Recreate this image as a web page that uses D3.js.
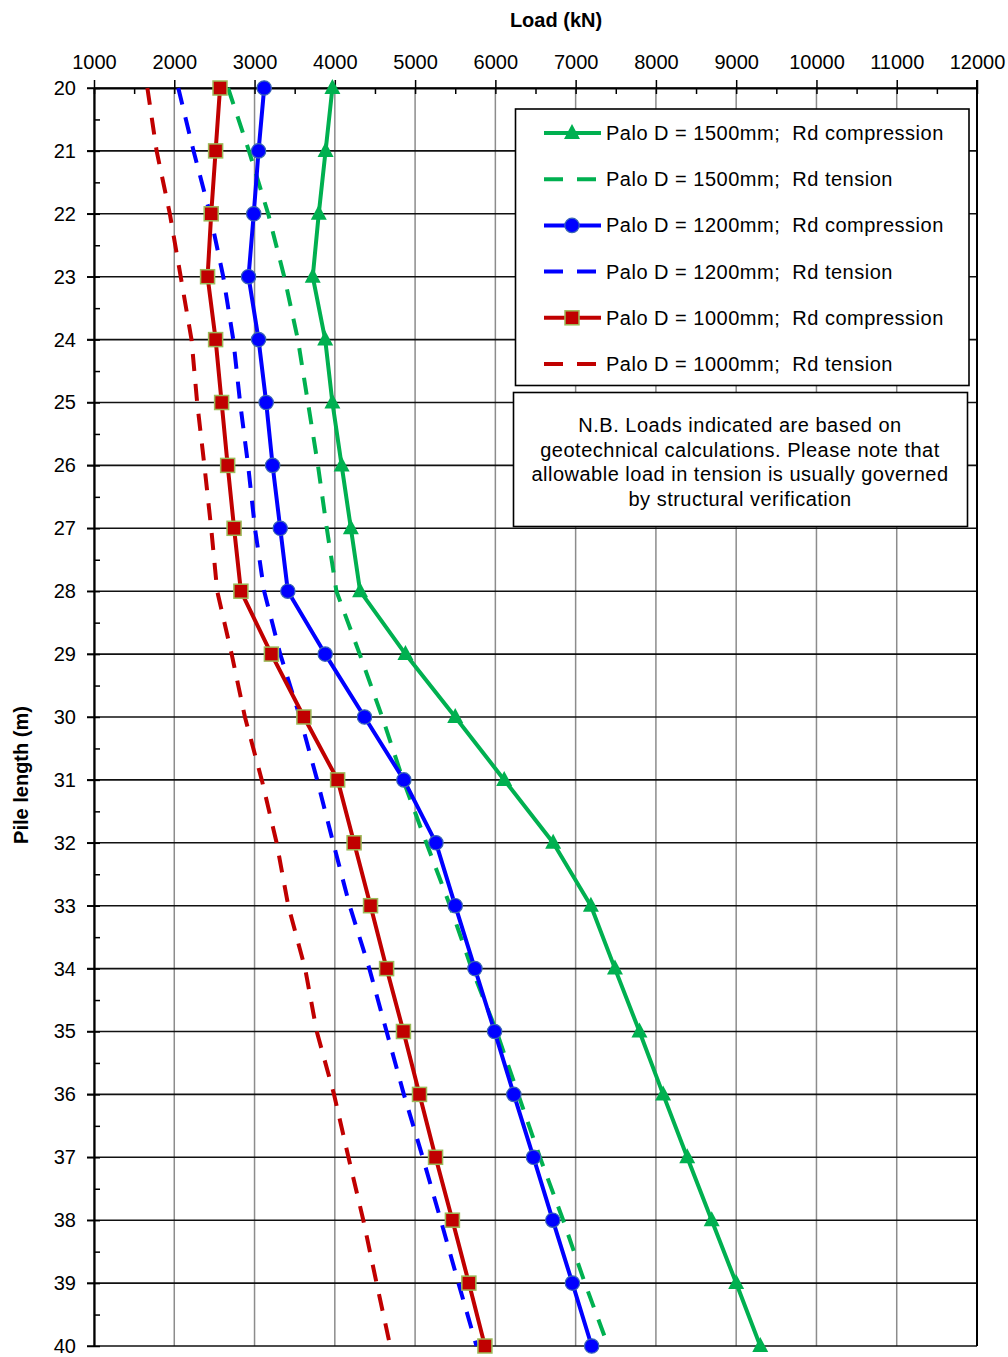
<!DOCTYPE html>
<html>
<head>
<meta charset="utf-8">
<script src="https://cdn.jsdelivr.net/npm/d3@7"></script>
<style>
  body { margin: 0; background: #fff; }
  svg text { font-family: "Liberation Sans", Arial, sans-serif; fill: #000; }
  .axis path, .axis line { stroke: #000; }
</style>
</head>
<body>
<div id="chart"></div>
<script>
// pile lengths (m)
var depths = [20, 21, 22, 23, 24, 25, 26, 27, 28, 29, 30, 31, 32, 33, 34, 35, 36, 37, 38, 39, 40];

// design resistance (kN)
var d1500Comp = [3970, 3885, 3800, 3725, 3880, 3970, 4085, 4200, 4315, 4880, 5500, 6110, 6720, 7190, 7490, 7795, 8090, 8390, 8695, 9000, 9300];
var d1500Tens = [2670, 2930, 3170, 3370, 3540, 3665, 3790, 3900, 4020, 4310, 4590, 4850, 5140, 5435, 5705, 6015, 6285, 6555, 6845, 7115, 7405];
var d1200Comp = [3120, 3050, 2990, 2925, 3050, 3145, 3225, 3320, 3415, 3880, 4370, 4860, 5260, 5500, 5745, 5990, 6230, 6475, 6715, 6960, 7200];
var d1200Tens = [2050, 2240, 2445, 2610, 2735, 2820, 2920, 3005, 3120, 3320, 3565, 3780, 3980, 4185, 4430, 4645, 4860, 5095, 5320, 5540, 5765];
var d1000Comp = [2570, 2515, 2460, 2415, 2515, 2590, 2665, 2745, 2830, 3210, 3615, 4035, 4240, 4445, 4645, 4855, 5055, 5255, 5465, 5670, 5870];
var d1000Tens = [1665, 1780, 1945, 2080, 2215, 2285, 2375, 2460, 2535, 2715, 2880, 3090, 3275, 3420, 3630, 3775, 3990, 4170, 4355, 4520, 4690];

var loadTicks = [1000, 2000, 3000, 4000, 5000, 6000, 7000, 8000, 9000, 10000, 11000, 12000];
var loadMinor = d3.range(1000, 12001, 500);
var depthTicks = d3.range(20, 41, 1);
var depthMinor = d3.range(20, 40.01, 0.5);

var noteLines = [
  "N.B. Loads indicated are based on",
  "geotechnical calculations. Please note that",
  "allowable load in tension is usually governed",
  "by structural verification"
];

var series = [
  {name: "Palo D = 1500mm;  Rd compression", values: d1500Comp, color: "#00B050", dashed: false, marker: "triangle"},
  {name: "Palo D = 1500mm;  Rd tension",     values: d1500Tens, color: "#00B050", dashed: true},
  {name: "Palo D = 1200mm;  Rd compression", values: d1200Comp, color: "#0000FF", dashed: false, marker: "circle"},
  {name: "Palo D = 1200mm;  Rd tension",     values: d1200Tens, color: "#0000FF", dashed: true},
  {name: "Palo D = 1000mm;  Rd compression", values: d1000Comp, color: "#C00000", dashed: false, marker: "square"},
  {name: "Palo D = 1000mm;  Rd tension",     values: d1000Tens, color: "#C00000", dashed: true}
];

var width = 1008, height = 1357;
var m = {top: 88, right: 31, bottom: 11, left: 94};
var w = width - m.left - m.right;
var h = height - m.top - m.bottom;

var x = d3.scaleLinear().domain([1000, 12000]).range([0, w]);
var y = d3.scaleLinear().domain([20, 40]).range([0, h]);

var svg = d3.select("#chart").append("svg")
  .attr("width", width)
  .attr("height", height);

var g = svg.append("g").attr("transform", "translate(" + m.left + "," + m.top + ")");

// vertical gray grid
g.append("g")
  .selectAll("line")
  .data(loadTicks)
  .enter().append("line")
  .attr("x1", d => x(d)).attr("x2", d => x(d))
  .attr("y1", 0).attr("y2", h)
  .attr("stroke", "#8c8c8c")
  .attr("stroke-width", 1.5);

// horizontal black grid
g.append("g")
  .selectAll("line")
  .data(depthTicks)
  .enter().append("line")
  .attr("x1", -7).attr("x2", w)
  .attr("y1", d => y(d)).attr("y2", d => y(d))
  .attr("stroke", "#111")
  .attr("stroke-width", 1.6);

// inner ticks
var xInner = d3.axisTop(x).tickValues(loadMinor).tickSizeInner(-6).tickSizeOuter(0).tickFormat("");
g.append("g").attr("class", "axis").call(xInner)
  .call(s => s.select(".domain").remove())
  .selectAll("line").attr("stroke-width", 1.5);

var yInner = d3.axisLeft(y).tickValues(depthMinor).tickSizeInner(-6).tickSizeOuter(0).tickFormat("");
g.append("g").attr("class", "axis").call(yInner)
  .call(s => s.select(".domain").remove())
  .selectAll("line").attr("stroke-width", 1.5);

// top axis with labels
var xAxis = d3.axisTop(x).tickValues(loadTicks).tickSizeInner(8).tickSizeOuter(0).tickPadding(11)
  .tickFormat(d3.format("d"));
var gx = g.append("g").attr("class", "axis").call(xAxis);
gx.select(".domain").attr("stroke-width", 2);
gx.selectAll("line").attr("stroke-width", 1.5);
gx.selectAll("text").attr("font-size", 20).attr("font-family", "Liberation Sans, Arial, sans-serif");

// left axis with labels
var yAxis = d3.axisLeft(y).tickValues(depthTicks).tickSizeInner(7).tickSizeOuter(0).tickPadding(11)
  .tickFormat(d3.format("d"));
var gy = g.append("g").attr("class", "axis").call(yAxis);
gy.select(".domain").attr("stroke-width", 2.2);
gy.selectAll("line").attr("stroke-width", 1.5);
gy.selectAll("text").attr("font-size", 20).attr("font-family", "Liberation Sans, Arial, sans-serif");

// right border
g.append("line")
  .attr("x1", w).attr("x2", w).attr("y1", -8).attr("y2", h)
  .attr("stroke", "#000").attr("stroke-width", 2);

// axis titles
svg.append("text")
  .attr("x", 556).attr("y", 27)
  .attr("text-anchor", "middle")
  .attr("font-size", 20).attr("font-weight", "bold")
  .text("Load (kN)");

svg.append("text")
  .attr("transform", "translate(28,775) rotate(-90)")
  .attr("text-anchor", "middle")
  .attr("font-size", 20).attr("font-weight", "bold")
  .text("Pile length (m)");

// series lines
var line = d3.line()
  .x(d => x(d[1]))
  .y(d => y(d[0]));

series.forEach(function(s) {
  var pts = depths.map((d, i) => [d, s.values[i]]);
  g.append("path")
    .datum(pts)
    .attr("fill", "none")
    .attr("stroke", s.color)
    .attr("stroke-width", 4)
    .attr("stroke-linejoin", "round")
    .attr("stroke-dasharray", s.dashed ? "17,13" : null)
    .attr("d", line);
});

function drawMarker(sel, type, cx, cy) {
  if (type === "triangle") {
    sel.append("path")
      .attr("d", "M" + cx + "," + (cy - 9) + "L" + (cx + 8) + "," + (cy + 6) + "L" + (cx - 8) + "," + (cy + 6) + "Z")
      .attr("fill", "#00B050");
  } else if (type === "circle") {
    sel.append("circle")
      .attr("cx", cx).attr("cy", cy).attr("r", 7.2)
      .attr("fill", "#0000FF")
      .attr("stroke", "#3A66B5").attr("stroke-width", 1.2);
  } else if (type === "square") {
    sel.append("rect")
      .attr("x", cx - 7).attr("y", cy - 7).attr("width", 14).attr("height", 14)
      .attr("fill", "#C00000")
      .attr("stroke", "#9BBB59").attr("stroke-width", 1.5);
  }
}

series.filter(s => s.marker).forEach(function(s) {
  var mg = g.append("g");
  depths.forEach(function(d, i) {
    drawMarker(mg, s.marker, x(s.values[i]), y(d));
  });
});

// legend
var leg = svg.append("g");
leg.append("rect")
  .attr("x", 515.5).attr("y", 109).attr("width", 453.5).attr("height", 276.5)
  .attr("fill", "#fff").attr("stroke", "#000").attr("stroke-width", 1.6);

series.forEach(function(s, i) {
  var cy = 133 + i * 46.2;
  leg.append("line")
    .attr("x1", 544).attr("x2", 601).attr("y1", cy).attr("y2", cy)
    .attr("stroke", s.color).attr("stroke-width", 4)
    .attr("stroke-dasharray", s.dashed ? "19,14" : null);
  if (s.marker) drawMarker(leg, s.marker, 572, cy);
  leg.append("text")
    .attr("x", 606).attr("y", cy + 7)
    .attr("font-size", 20)
    .attr("letter-spacing", 0.5)
    .style("white-space", "pre")
    .text(s.name);
});

// note box
var note = svg.append("g");
note.append("rect")
  .attr("x", 513.5).attr("y", 392.5).attr("width", 454).attr("height", 134)
  .attr("fill", "#fff").attr("stroke", "#000").attr("stroke-width", 1.6);
noteLines.forEach(function(t, i) {
  note.append("text")
    .attr("x", 740).attr("y", 432 + i * 24.7)
    .attr("text-anchor", "middle")
    .attr("font-size", 20)
    .attr("letter-spacing", 0.5)
    .text(t);
});
</script>
</body>
</html>
